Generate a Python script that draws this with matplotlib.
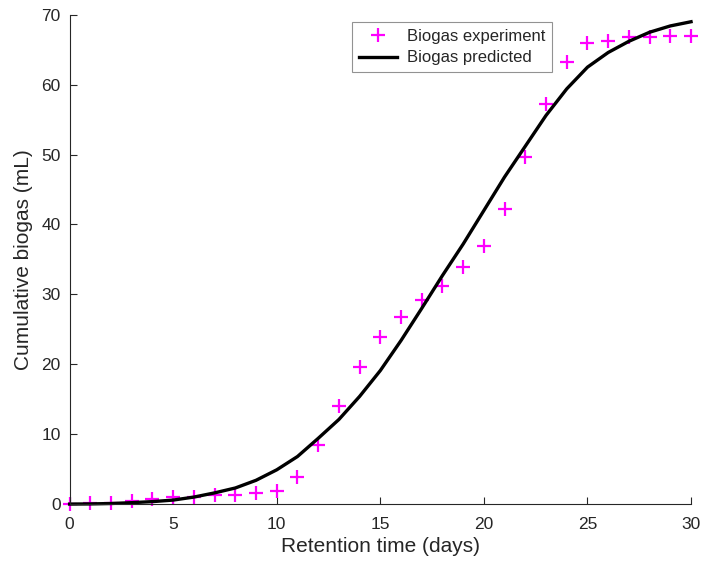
import numpy as np
import matplotlib
matplotlib.use("Agg")
import matplotlib.pyplot as plt

plt.rcParams['font.family'] = ['Liberation Sans', 'DejaVu Sans']

# Retention time (days)
days = np.arange(0, 31)

# Measured cumulative biogas (mL)
biogas_exp = [0.0, 0.1, 0.2, 0.5, 0.7, 1.0, 1.0, 1.3, 1.3, 1.6, 1.9,
              3.9, 8.4, 14.0, 19.6, 23.9, 26.8, 29.2, 31.2, 33.9, 36.9,
              42.2, 49.6, 57.3, 63.3, 66.0, 66.3, 66.8, 66.8, 67.0, 67.0]

# Model prediction (mL)
biogas_pred = [0.0, 0.02, 0.08, 0.2, 0.35, 0.57, 1.0, 1.6, 2.3, 3.4, 4.9,
               6.8, 9.4, 12.1, 15.4, 19.1, 23.4, 28.0, 32.7, 37.2, 42.0,
               46.8, 51.2, 55.6, 59.4, 62.5, 64.6, 66.2, 67.5, 68.4, 69.0]

text_col = '#262626'

fig = plt.figure(figsize=(7.03, 5.67), dpi=100)
ax = fig.add_axes([0.099, 0.111, 0.884, 0.863])

ax.plot(days, biogas_exp, linestyle='none', marker='+', color='#ff00ff',
        markersize=10, markeredgewidth=1.6, clip_on=False,
        label='Biogas experiment')
ax.plot(days, biogas_pred, color='black', linewidth=2.4, clip_on=False,
        label='Biogas predicted')

ax.set_xlim(0, 30)
ax.set_ylim(0, 70)
ax.set_xticks(np.arange(0, 31, 5))
ax.set_yticks(np.arange(0, 71, 10))

for side in ['top', 'right']:
    ax.spines[side].set_visible(False)
for side in ['left', 'bottom']:
    ax.spines[side].set_color(text_col)
    ax.spines[side].set_linewidth(0.8)
ax.tick_params(direction='in', length=5, width=0.8, colors=text_col,
               labelsize=12.5)
ax.tick_params(axis='x', pad=9)
ax.tick_params(axis='y', pad=6.5)

ax.set_xlabel('Retention time (days)', fontsize=15, color=text_col, labelpad=4)
ax.set_ylabel('Cumulative biogas (mL)', fontsize=15, color=text_col, labelpad=6)

leg = ax.legend(loc='upper left', bbox_to_anchor=(0.4545, 0.985), fontsize=12,
                frameon=True, fancybox=False, handlelength=2.3,
                borderaxespad=0, borderpad=0.4, labelspacing=0.4,
                handletextpad=0.6)
leg.get_frame().set_edgecolor('#777777')
leg.get_frame().set_linewidth(0.8)
for t in leg.get_texts():
    t.set_color(text_col)

fig.savefig('out.png', dpi=100)
